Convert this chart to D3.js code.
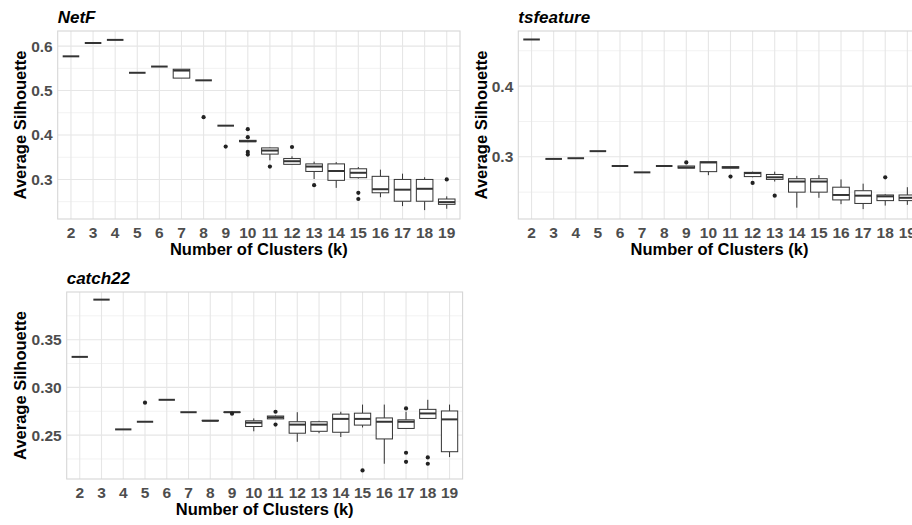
<!DOCTYPE html>
<html><head><meta charset="utf-8">
<script src="https://cdn.jsdelivr.net/npm/d3@7"></script>
<style>body{margin:0;background:#fff;} svg{display:block;font-family:"Liberation Sans",Arial,sans-serif;}</style>
</head><body>
<svg id="c" width="912" height="525"></svg>
<script>
const ks = [2,3,4,5,6,7,8,9,10,11,12,13,14,15,16,17,18,19];

// NetF
const netfLo  = [0.577,0.607,0.614,0.540,0.554,0.528,0.523,0.421,0.384,0.343,0.333,0.301,0.281,0.302,0.260,0.240,0.231,0.234];
const netfQ1  = [0.577,0.607,0.614,0.540,0.554,0.528,0.523,0.421,0.385,0.357,0.334,0.318,0.298,0.304,0.270,0.251,0.251,0.244];
const netfMed = [0.577,0.607,0.614,0.540,0.554,0.545,0.523,0.421,0.386,0.365,0.341,0.329,0.319,0.315,0.278,0.277,0.279,0.249];
const netfQ3  = [0.577,0.607,0.614,0.540,0.554,0.548,0.523,0.421,0.388,0.371,0.347,0.335,0.335,0.324,0.307,0.300,0.300,0.256];
const netfHi  = [0.577,0.607,0.614,0.540,0.554,0.548,0.523,0.421,0.389,0.372,0.352,0.340,0.339,0.328,0.322,0.313,0.305,0.262];
const netfOut = [[],[],[],[],[],[],[0.440],[0.374],[0.413,0.395,0.362,0.356],[0.329],[0.373],[0.287],[],[0.270,0.256],[],[],[],[0.300]];

// tsfeature
const tsfLo  = [0.466,0.297,0.298,0.308,0.287,0.278,0.287,0.284,0.274,0.284,0.271,0.265,0.228,0.242,0.233,0.226,0.231,0.232];
const tsfQ1  = [0.466,0.297,0.298,0.308,0.287,0.278,0.287,0.284,0.279,0.284,0.272,0.268,0.250,0.250,0.239,0.234,0.238,0.238];
const tsfMed = [0.466,0.297,0.298,0.308,0.287,0.278,0.287,0.285,0.292,0.285,0.277,0.271,0.265,0.265,0.246,0.245,0.244,0.242];
const tsfQ3  = [0.466,0.297,0.298,0.308,0.287,0.278,0.287,0.287,0.293,0.286,0.278,0.275,0.269,0.269,0.257,0.252,0.246,0.246];
const tsfHi  = [0.466,0.297,0.298,0.308,0.287,0.278,0.287,0.287,0.293,0.286,0.279,0.279,0.273,0.274,0.268,0.262,0.247,0.257];
const tsfOut = [[],[],[],[],[],[],[],[0.292],[],[0.272],[0.263],[0.245],[],[],[],[],[0.271],[]];

// catch22
const c22Lo  = [0.332,0.392,0.256,0.264,0.287,0.274,0.265,0.2735,0.254,0.267,0.243,0.252,0.248,0.258,0.220,0.257,0.2675,0.227];
const c22Q1  = [0.332,0.392,0.256,0.264,0.287,0.274,0.265,0.2738,0.259,0.267,0.252,0.254,0.253,0.2605,0.246,0.257,0.2675,0.2326];
const c22Med = [0.332,0.392,0.256,0.264,0.287,0.274,0.265,0.274,0.263,0.2686,0.261,0.261,0.267,0.267,0.264,0.264,0.2727,0.2665];
const c22Q3  = [0.332,0.392,0.256,0.264,0.287,0.274,0.2655,0.2742,0.265,0.270,0.264,0.264,0.272,0.273,0.268,0.266,0.277,0.2753];
const c22Hi  = [0.332,0.392,0.256,0.264,0.287,0.274,0.2655,0.2745,0.2675,0.2705,0.274,0.265,0.2745,0.282,0.282,0.2745,0.287,0.282];
const c22Out = [[],[],[],[0.284],[],[],[],[0.2725],[],[0.2745,0.261],[],[],[],[0.213],[],[0.278,0.2315,0.222],[0.2266,0.220],[]];

const netfTicks = [0.3,0.4,0.5,0.6], netfMinor = [0.25,0.35,0.45,0.55];
const tsfTicks = [0.3,0.4], tsfMinor = [0.25,0.35,0.45];
const c22Ticks = [0.25,0.30,0.35], c22Minor = [0.225,0.275,0.325,0.375];

const panels = [
  {title:"NetF", lo:netfLo,q1:netfQ1,med:netfMed,q3:netfQ3,hi:netfHi,out:netfOut, ticks:netfTicks, minor:netfMinor, fmt:d3.format(".1f"),
   dom:[0.211,0.634], x0:57.7, x1:460, y0:31, y1:219, ytx:20},
  {title:"tsfeature", lo:tsfLo,q1:tsfQ1,med:tsfMed,q3:tsfQ3,hi:tsfHi,out:tsfOut, ticks:tsfTicks, minor:tsfMinor, fmt:d3.format(".1f"),
   dom:[0.212,0.478], x0:518.3, x1:920.6, y0:31, y1:219, ytx:481},
  {title:"catch22", lo:c22Lo,q1:c22Q1,med:c22Med,q3:c22Q3,hi:c22Hi,out:c22Out, ticks:c22Ticks, minor:c22Minor, fmt:d3.format(".2f"),
   dom:[0.204,0.400], x0:66.7, x1:462.6, y0:292, y1:479, ytx:20}
];

const svg = d3.select("#c");
const stroke = "#333333";

panels.forEach(p => {
  const g = svg.append("g");
  const x = d3.scalePoint().domain(ks).range([p.x0, p.x1]).padding(0.6);
  const cx = k => x(k);
  const bw = x.step() * 0.75;
  const y = d3.scaleLinear().domain(p.dom).range([p.y1, p.y0]);

  // gridlines
  g.selectAll(".mn").data(p.minor).join("line")
    .attr("x1", p.x0).attr("x2", p.x1).attr("y1", d=>y(d)).attr("y2", d=>y(d))
    .attr("stroke", "#f2f2f2").attr("stroke-width", 1);
  g.selectAll(".mj").data(p.ticks).join("line")
    .attr("x1", p.x0).attr("x2", p.x1).attr("y1", d=>y(d)).attr("y2", d=>y(d))
    .attr("stroke", "#e6e6e6").attr("stroke-width", 1.1);
  g.selectAll(".vx").data(ks).join("line")
    .attr("x1", d=>cx(d)).attr("x2", d=>cx(d)).attr("y1", p.y0).attr("y2", p.y1)
    .attr("stroke", "#e6e6e6").attr("stroke-width", 1.1);
  g.append("rect").attr("x", p.x0).attr("y", p.y0).attr("width", p.x1-p.x0).attr("height", p.y1-p.y0)
    .attr("fill","none").attr("stroke","#d6d6d6").attr("stroke-width",1.1);

  // boxes
  ks.forEach((k,i) => {
    const c = cx(k);
    g.append("line").attr("x1",c).attr("x2",c).attr("y1",y(p.q3[i])).attr("y2",y(p.hi[i])).attr("stroke",stroke).attr("stroke-width",1);
    g.append("line").attr("x1",c).attr("x2",c).attr("y1",y(p.q1[i])).attr("y2",y(p.lo[i])).attr("stroke",stroke).attr("stroke-width",1);
    g.append("rect").attr("x",c-bw/2).attr("y",y(p.q3[i])).attr("width",bw).attr("height",Math.max(0,y(p.q1[i])-y(p.q3[i])))
      .attr("fill","#fff").attr("stroke",stroke).attr("stroke-width",1);
    g.append("line").attr("x1",c-bw/2).attr("x2",c+bw/2).attr("y1",y(p.med[i])).attr("y2",y(p.med[i]))
      .attr("stroke",stroke).attr("stroke-width",2);
    p.out[i].forEach(o => {
      g.append("circle").attr("cx",c).attr("cy",y(o)).attr("r",2.1).attr("fill","#222");
    });
  });

  // axes labels
  g.selectAll(".yt").data(p.ticks).join("text")
    .attr("x", p.x0 - 5).attr("y", d=>y(d)).attr("dy","0.35em").attr("text-anchor","end")
    .attr("font-size",15.5).attr("font-weight","bold").attr("fill","#4d4d4d").text(d=>p.fmt(d));
  g.selectAll(".xt").data(ks).join("text")
    .attr("x", d=>cx(d)).attr("y", p.y1 + 19).attr("text-anchor","middle")
    .attr("font-size",15.5).attr("font-weight","bold").attr("fill","#4d4d4d").text(d=>d);
  g.append("text").attr("x",(p.x0+p.x1)/2).attr("y",p.y1+36).attr("text-anchor","middle")
    .attr("font-size",16.5).attr("font-weight","bold").attr("fill","#000").text("Number of Clusters (k)");
  g.append("text").attr("transform",`translate(${p.ytx+6},${(p.y0+p.y1)/2}) rotate(-90)`).attr("text-anchor","middle")
    .attr("font-size",16.5).attr("font-weight","bold").attr("fill","#000").text("Average Silhouette");
  g.append("text").attr("x",p.x0).attr("y",p.y0-8.5).attr("font-size",17).attr("font-weight","bold").attr("font-style","italic")
    .attr("fill","#000").text(p.title);
});
</script>
</body></html>
